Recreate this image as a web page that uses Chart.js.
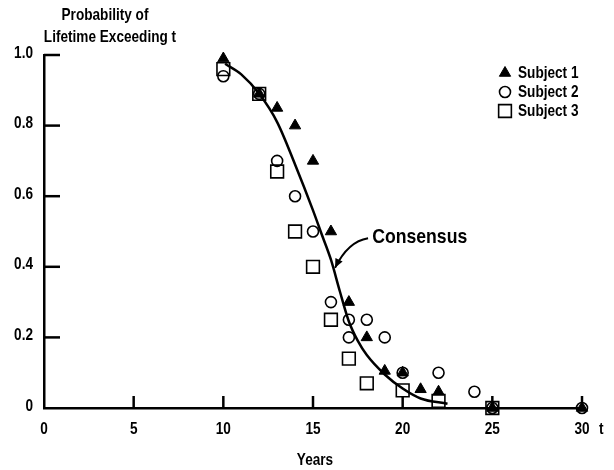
<!DOCTYPE html>
<html>
<head>
<meta charset="utf-8">
<script src="https://cdn.jsdelivr.net/npm/chart.js@4/dist/chart.umd.min.js"></script>
<style>
  html, body { margin: 0; padding: 0; background: #ffffff; }
  #wrap { width: 614px; height: 470px; position: relative; }
</style>
</head>
<body>
<div id="wrap"><canvas id="c" width="614" height="470"></canvas></div>
<script>
// ---- data ----
const xTickLabels = ['0', '5', '10', '15', '20', '25', '30'];
const yTickLabels = ['0', '0.2', '0.4', '0.6', '0.8', '1.0'];

const subject1X = [10, 12, 13, 14, 15, 16, 17, 18, 19, 20, 21, 22, 25, 30];
const subject1Y = [0.99, 0.89, 0.85, 0.80, 0.70, 0.50, 0.30, 0.20, 0.105, 0.10, 0.053, 0.046, 0, 0];

const subject2X = [10, 12, 13, 14, 15, 16, 17, 17, 18, 19, 20, 22, 24, 25, 30];
const subject2Y = [0.94, 0.89, 0.70, 0.60, 0.50, 0.30, 0.25, 0.20, 0.25, 0.20, 0.10, 0.10, 0.046, 0, 0];

const subject3X = [10, 12, 13, 14, 15, 16, 17, 18, 20, 22, 25];
const subject3Y = [0.96, 0.89, 0.67, 0.50, 0.40, 0.25, 0.14, 0.07, 0.05, 0.02, 0];

const consensusX = [10.1, 11, 12, 13, 14, 15, 15.5, 16, 16.5, 17, 17.5, 18, 19, 20, 21, 22.5];
const consensusY = [0.975, 0.945, 0.89, 0.81, 0.69, 0.56, 0.49, 0.42, 0.33, 0.245, 0.19, 0.15, 0.095, 0.055, 0.027, 0.012];

const seriesNames = ['Subject 1', 'Subject 2', 'Subject 3'];
const consensusName = 'Consensus';
const xAxisTitle = 'Years';
const yAxisTitle = ['Probability of', 'Lifetime Exceeding t'];
const xAxisSymbol = 't';
// annotation anchor (data units): label start, arrow start, arrow bend, arrow tip on curve
const consensusLabelAt = [18.3, 0.484];
const arrowFrom = [18.07, 0.481];
const arrowBend = [16.95, 0.472];
const arrowTo = [16.23, 0.397];

const FONT = "'Liberation Sans', Arial, sans-serif";

function pts(xs, ys) { return xs.map((x, i) => ({ x: x, y: ys[i] })); }

// narrow bold text (condensed look of the original typeface)
function narrowText(ctx, str, x, y, align, size, squeeze) {
  ctx.save();
  ctx.translate(x, y);
  ctx.scale(squeeze || 0.8, 1);
  ctx.font = 'bold ' + size + 'px ' + FONT;
  ctx.textAlign = align;
  ctx.textBaseline = 'middle';
  ctx.fillStyle = '#000';
  ctx.fillText(str, 0, 0);
  ctx.restore();
}

const overlay = {
  id: 'overlay',
  afterDraw(chart) {
    const ctx = chart.ctx;
    const xs = chart.scales.x, ys = chart.scales.y;
    const area = chart.chartArea;
    ctx.save();
    ctx.strokeStyle = '#000';
    ctx.fillStyle = '#000';
    ctx.lineWidth = 2.5;
    // inward tick marks and tick labels
    xTickLabels.forEach(l => {
      const v = Number(l);
      const px = xs.getPixelForValue(v);
      if (v !== 0) {
        ctx.beginPath(); ctx.moveTo(px, area.bottom); ctx.lineTo(px, area.bottom - 12); ctx.stroke();
      }
      narrowText(ctx, l, px, area.bottom + 21, 'center', 17);
    });
    yTickLabels.forEach(l => {
      const v = Number(l);
      const py = ys.getPixelForValue(v);
      if (v !== 0) {
        ctx.beginPath(); ctx.moveTo(area.left, py); ctx.lineTo(area.left + 16, py); ctx.stroke();
      }
      narrowText(ctx, l, area.left - 11, py - 2, 'right', 17);
    });
    // axis titles
    narrowText(ctx, yAxisTitle[0], 105, 15, 'center', 17);
    narrowText(ctx, yAxisTitle[1], 110, 37, 'center', 17);
    narrowText(ctx, xAxisTitle, (area.left + area.right) / 2 + 2, 460, 'center', 17);
    narrowText(ctx, xAxisSymbol, 599, area.bottom + 21, 'left', 17);
    // legend
    const ds = chart.data.datasets;
    seriesNames.forEach((name, i) => {
      const d = ds[i];
      const y = 73 + i * 19;
      ctx.fillStyle = d.pointBackgroundColor;
      ctx.strokeStyle = d.pointBorderColor;
      ctx.lineWidth = d.pointBorderWidth;
      Chart.helpers.drawPoint(ctx, {
        pointStyle: d.pointStyle, radius: d.pointRadius, rotation: 0,
        borderWidth: d.pointBorderWidth
      }, 505, y);
      narrowText(ctx, name, 518, y, 'left', 17);
    });
    // consensus annotation
    narrowText(ctx, consensusName, xs.getPixelForValue(consensusLabelAt[0]), ys.getPixelForValue(consensusLabelAt[1]), 'left', 21, 0.84);
    const a0 = [xs.getPixelForValue(arrowFrom[0]), ys.getPixelForValue(arrowFrom[1])];
    const a1 = [xs.getPixelForValue(arrowBend[0]), ys.getPixelForValue(arrowBend[1])];
    const a2 = [xs.getPixelForValue(arrowTo[0]), ys.getPixelForValue(arrowTo[1])];
    ctx.strokeStyle = '#000';
    ctx.fillStyle = '#000';
    ctx.lineWidth = 2;
    ctx.beginPath();
    ctx.moveTo(a0[0], a0[1]);
    ctx.quadraticCurveTo(a1[0], a1[1], a2[0], a2[1]);
    ctx.stroke();
    const ang = Math.atan2(a2[1] - a1[1], a2[0] - a1[0]);
    const L = 9, W = 4;
    ctx.beginPath();
    ctx.moveTo(a2[0], a2[1]);
    ctx.lineTo(a2[0] - L * Math.cos(ang) + W * Math.sin(ang), a2[1] - L * Math.sin(ang) - W * Math.cos(ang));
    ctx.lineTo(a2[0] - L * Math.cos(ang) - W * Math.sin(ang), a2[1] - L * Math.sin(ang) + W * Math.cos(ang));
    ctx.closePath();
    ctx.fill();
    ctx.restore();
  }
};

new Chart(document.getElementById('c'), {
  type: 'scatter',
  data: {
    datasets: [
      {
        label: seriesNames[0], data: pts(subject1X, subject1Y),
        pointStyle: 'triangle', pointRadius: 6.5, pointBorderWidth: 1,
        pointBackgroundColor: '#000', pointBorderColor: '#000', clip: false
      },
      {
        label: seriesNames[1], data: pts(subject2X, subject2Y),
        pointStyle: 'circle', pointRadius: 5.5, pointBorderWidth: 1.6,
        pointBackgroundColor: 'rgba(255,255,255,0)', pointBorderColor: '#000', clip: false
      },
      {
        label: seriesNames[2], data: pts(subject3X, subject3Y),
        pointStyle: 'rect', pointRadius: 9, pointBorderWidth: 1.6,
        pointBackgroundColor: 'rgba(255,255,255,0)', pointBorderColor: '#000', clip: false
      },
      {
        label: consensusName, data: pts(consensusX, consensusY),
        showLine: true, pointRadius: 0, borderColor: '#000', borderWidth: 2.5,
        cubicInterpolationMode: 'monotone', fill: false, clip: false
      }
    ]
  },
  options: {
    responsive: false,
    animation: false,
    events: [],
    layout: { padding: { top: 55, right: 32, left: 0, bottom: 0 } },
    plugins: { legend: { display: false }, tooltip: { enabled: false } },
    scales: {
      x: {
        type: 'linear', min: 0, max: 30,
        afterFit(s) { s.height = 62; },
        afterBuildTicks(s) { s.ticks = xTickLabels.map(v => ({ value: Number(v) })); },
        ticks: { display: false },
        grid: { display: true, drawOnChartArea: false, drawTicks: false, color: 'rgba(0,0,0,0)' },
        border: { display: true, color: '#000', width: 2.5 }
      },
      y: {
        type: 'linear', min: 0, max: 1,
        afterFit(s) { s.width = 44; },
        afterBuildTicks(s) { s.ticks = yTickLabels.map(v => ({ value: Number(v) })); },
        ticks: { display: false },
        grid: { display: true, drawOnChartArea: false, drawTicks: false, color: 'rgba(0,0,0,0)' },
        border: { display: true, color: '#000', width: 2.5 }
      }
    }
  },
  plugins: [overlay]
});
</script>
</body>
</html>
